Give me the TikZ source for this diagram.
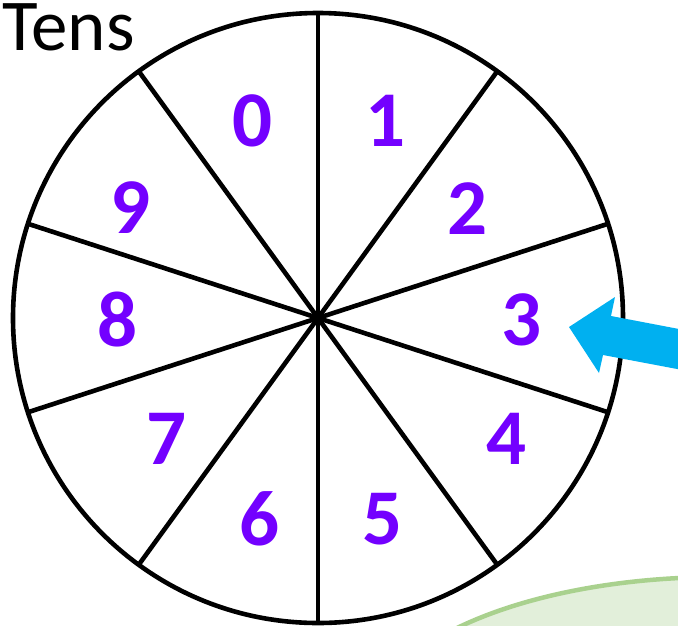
\documentclass[tikz,border=0pt]{standalone}
\usepackage{fontspec}
\setmainfont{Carlito}
\definecolor{digitpurple}{RGB}{115,0,255}
\definecolor{arrowblue}{RGB}{0,176,240}
\definecolor{greenline}{RGB}{169,209,142}
\definecolor{greenfill}{RGB}{226,239,218}
\tikzset{
  digit/.style={text=digitpurple, font=\fontsize{79}{79}\selectfont\bfseries, inner sep=0pt, anchor=center},
  spoke/.style={line width=4.6pt, black},
}
\begin{document}
\begin{tikzpicture}[x=1pt, y=-1pt]
\useasboundingbox (0,0) rectangle (678,625);
\clip (0,0) rectangle (678,625);
% green ellipse partially visible
\draw[line width=4.5pt, draw=greenline, fill=greenfill] (720,727) ellipse [x radius=350, y radius=150];
% wheel
\node[circle, draw, line width=4.6pt, minimum size=610pt, inner sep=0pt, outer sep=0pt] (wheel) at (318,318) {};
\foreach \a in {90,54,18,-18,-54,-90,-126,-162,-198,-234} {
  \draw[spoke] (wheel.center) -- (wheel.\a);
}
% title
\node[anchor=north west, inner sep=0pt, font=\fontsize{73}{73}\selectfont] (title) at (2,3) {Tens};
% digits
\node[digit] (d0) at (253,121) {0};
\node[digit] (d1) at (386,121) {1};
\node[digit] (d2) at (468,209) {2};
\node[digit] (d3) at (522,320) {3};
\node[digit] (d4) at (507,439) {4};
\node[digit] (d5) at (383,519) {5};
\node[digit] (d6) at (260,519) {6};
\node[digit] (d7) at (167,439) {7};
\node[digit] (d8) at (118,320) {8};
\node[digit] (d9) at (131,208) {9};
% blue block arrow
\fill[arrowblue] (569,327) -- (615,297) -- (611,316) -- (700,333) -- (693,372) -- (603,355) -- (599,373) -- cycle;
\end{tikzpicture}
\end{document}
